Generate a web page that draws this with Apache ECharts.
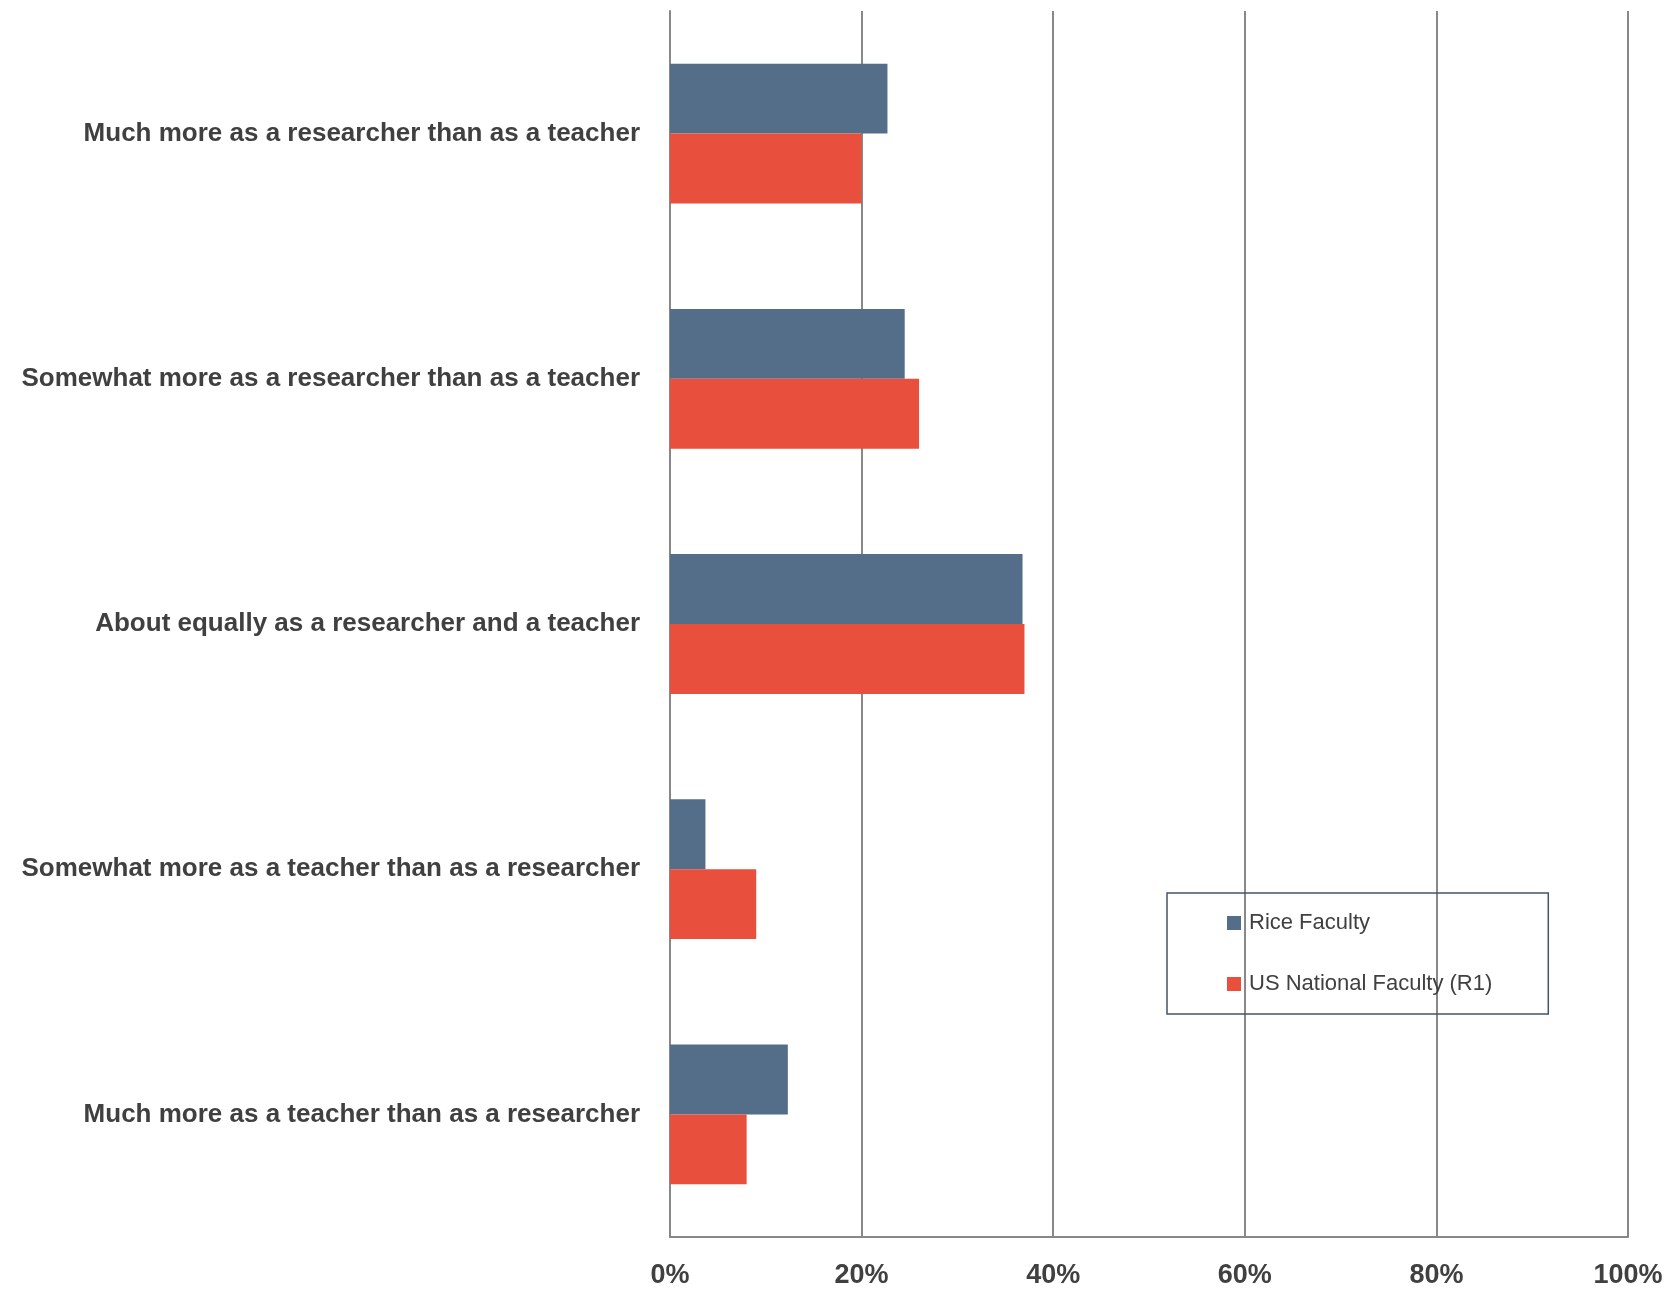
<!DOCTYPE html>
<html>
<head>
<meta charset="utf-8">
<script src="https://cdn.jsdelivr.net/npm/echarts@6/dist/echarts.min.js"></script>
<style>html,body{margin:0;padding:0;background:#fff;}#c{width:1665px;height:1289px;}</style>
</head>
<body>
<div id="c"></div>
<script>
const categories = [
  "Much more as a researcher than as a teacher",
  "Somewhat more as a researcher than as a teacher",
  "About equally as a researcher and a teacher",
  "Somewhat more as a teacher than as a researcher",
  "Much more as a teacher than as a researcher"
];
const riceFaculty = [22.7, 24.5, 36.8, 3.7, 12.3];
const usNational = [20.0, 26.0, 37.0, 9.0, 8.0];
const seriesNames = ["Rice Faculty", "US National Faculty (R1)"];
const xTicks = [0, 20, 40, 60, 80, 100];

const FONT = "'Liberation Sans Narrow', 'Arial Narrow', 'Liberation Sans', sans-serif";
const chart = echarts.init(document.getElementById('c'));
chart.setOption({
  animation: false,
  backgroundColor: '#ffffff',
  grid: { left: 670, right: 37, top: 11, bottom: 52, containLabel: false, outerBoundsMode: 'none' },
  legend: {
    orient: 'vertical',
    left: 1167,
    top: 893,
    data: seriesNames,
    icon: 'rect',
    itemWidth: 14,
    itemHeight: 14,
    itemGap: 37,
    padding: [18, 56, 18, 60],
    borderColor: '#44546a',
    borderWidth: 1.5,
    textStyle: { fontFamily: FONT, fontSize: 22, color: '#404040', lineHeight: 24, padding: [0, 0, 0, 3] }
  },
  xAxis: {
    type: 'value',
    min: 0,
    max: 100,
    interval: 20,
    axisLine: { show: true, lineStyle: { color: '#888888', width: 2 } },
    axisTick: { show: false },
    splitLine: { show: true, lineStyle: { color: '#888888', width: 2 } },
    axisLabel: {
      formatter: function (v) { return xTicks.indexOf(v) >= 0 ? v + '%' : ''; },
      fontFamily: FONT, fontSize: 27, fontWeight: 'bold', color: '#404040', margin: 25
    }
  },
  yAxis: {
    type: 'category',
    data: categories,
    inverse: true,
    axisLine: { show: true, lineStyle: { color: '#888888', width: 2 } },
    axisTick: { show: false },
    axisLabel: { fontFamily: FONT, fontSize: 26, fontWeight: 'bold', color: '#404040', margin: 30, padding: [4, 0, 0, 0] }
  },
  series: [
    { name: seriesNames[0], type: 'bar', data: riceFaculty, barGap: '0%', barCategoryGap: '43%',
      itemStyle: { color: '#546e8a' } },
    { name: seriesNames[1], type: 'bar', data: usNational, barGap: '0%', barCategoryGap: '43%',
      itemStyle: { color: '#e84f3d' } }
  ]
});
</script>
</body>
</html>
